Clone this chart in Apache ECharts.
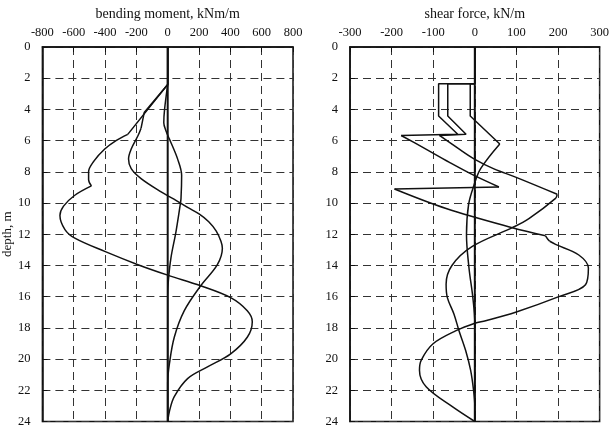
<!DOCTYPE html>
<html>
<head>
<meta charset="utf-8">
<script src="https://cdn.jsdelivr.net/npm/echarts@6/dist/echarts.min.js"></script>
<style>
    html, body { margin: 0; padding: 0; background: #fff; }
    #chart { width: 612px; height: 428px; }
</style>
</head>
<body>
<div id="chart"></div>
<script>
// depth ticks (m), shared by both panels
const depthMin = 0
const depthMax = 24
const depthStep = 2

// bending moment panel: x range (kNm/m)
const momentMin = -800
const momentMax = 800
const momentStep = 200

// shear force panel: x range (kN/m)
const shearMin = -300
const shearMax = 300
const shearStep = 100

// bending moment curves, [moment, depth]
const momentA_line = [[0, 0], [0, 2.4], [-255, 5.6]]
const momentA_curve1 = [[-255, 5.6], [-330, 6.0], [-402, 6.54], [-470, 7.3], [-505, 8.0], [-505, 8.5], [-487, 8.9]]
const momentA_curve2 = [[-487, 8.9], [-593, 9.5], [-665, 10.2], [-688, 10.8], [-656, 11.7], [-593, 12.25],
    [-402, 13.1], [-190, 13.95], [0, 14.62], [211, 15.3], [402, 16.06], [508, 16.9], [540, 17.6],
    [508, 18.6], [402, 19.66], [254, 20.5], [127, 21.25], [42, 22.4], [12, 23.3], [0, 24]]

const momentB_line = [[0, 0], [0, 2.4], [-150, 4.2], [-170, 5.2]]
const momentB_curve = [[-170, 5.2], [-190, 5.69], [-233, 6.54], [-250, 7.17], [-233, 7.8], [-170, 8.44],
    [-42, 9.29], [40, 9.75], [130, 10.3], [200, 10.7], [262, 11.2], [310, 11.8], [340, 12.45], [349, 12.9],
    [317, 13.95], [211, 15.3], [106, 16.9], [42, 18.6], [11, 20.3], [0, 21.5], [0, 24]]

const momentC_line = [[0, 0], [0, 2.41]]
const momentC_curve = [[0, 2.41], [-20, 4.0], [-25, 4.85], [-10, 5.4], [11, 5.9], [63, 7.17], [89, 8.23],
    [85, 9.7], [80, 10.1], [53, 11.83], [21, 13.5], [4, 15], [0, 16], [0, 24]]

const momentD_line = [[0, 0], [0, 24]]

// shear force curves, [shear, depth]
const shearA_line = [[0, 0], [0, 2.35], [-87, 2.35], [-87, 4.42], [-41, 5.59], [-177, 5.67]]
const shearA_curve1 = [[-177, 5.67], [-125, 6.43], [-61, 7.39], [2, 8.28], [58, 8.97]]
const shearA_jump = [[58, 8.97], [-193, 9.1]]
const shearA_curve2 = [[-193, 9.1], [-69, 10.35], [90, 11.58], [170, 12.1]]
const shearA_kink = [[170, 12.1], [175, 12.3], [180, 12.45]]
const shearA_curve3 = [[180, 12.45], [194, 12.65], [250, 13.33], [273, 14.17], [266, 15.24], [202, 16.0],
    [98, 17.0], [26, 17.54], [0, 17.7], [-45, 18.18], [-101, 19.03], [-129, 20.08], [-133, 20.72],
    [-117, 21.78], [-54, 23.05], [0, 24]]

const shearB_line = [[0, 0], [0, 2.35], [-65, 2.35], [-65, 4.42], [-21, 5.59], [-85, 5.67]]
const shearB_curve1 = [[-85, 5.67], [-40, 6.5], [0, 7.2], [46, 7.81], [98, 8.34], [198, 9.44]]
const shearB_curve2 = [[198, 9.44], [194, 9.7], [130, 11.0], [90, 11.58], [-6, 12.78], [-55, 14.0],
    [-69, 15.2], [-66, 16.06], [-50, 17.12], [-38, 18.18], [-22, 19.45], [-10, 20.72], [-3, 22],
    [0, 23], [0, 24]]

const shearC_line = [[0, 0], [0, 2.35], [-11, 2.35], [-11, 4.42], [60, 6.22]]
const shearC_curve = [[60, 6.22], [14, 7.8], [-2, 8.86], [-15, 10.1], [-20, 12.04], [-14, 14.16],
    [-5, 16.0], [0, 17.7], [0, 24]]

const shearD_line = [[0, 0], [0, 24]]

const FONT = "'Liberation Serif', 'Times New Roman', serif"
const INK = '#111'

const makeSeries = (data, gridIndex, smooth, width) => ({
    type: 'line',
    xAxisIndex: gridIndex,
    yAxisIndex: gridIndex,
    data: data,
    smooth: smooth ? 0.35 : false,
    showSymbol: false,
    symbol: 'none',
    silent: true,
    lineStyle: { color: INK, width: width || 1.5 },
})

const makeXAxis = (gridIndex, name, min, max, interval) => ({
    type: 'value',
    gridIndex: gridIndex,
    position: 'top',
    min: min,
    max: max,
    interval: interval,
    name: name,
    nameLocation: 'middle',
    nameGap: 25,
    nameTextStyle: { color: INK, fontFamily: FONT, fontSize: 14 },
    axisLine: { show: true, onZero: false, lineStyle: { color: INK, width: 1.5 } },
    axisTick: { show: true, inside: true, length: 5, lineStyle: { color: INK, width: 1 } },
    axisLabel: { color: INK, fontFamily: FONT, fontSize: 12.5, margin: 8 },
    splitLine: { show: true, lineStyle: { color: '#333', width: 1, type: [8, 5] } },
})

const makeYAxis = (gridIndex, name) => ({
    type: 'value',
    gridIndex: gridIndex,
    inverse: true,
    min: depthMin,
    max: depthMax,
    interval: depthStep,
    name: name,
    nameLocation: 'middle',
    nameRotate: 90,
    nameGap: 21,
    nameTextStyle: { color: INK, fontFamily: FONT, fontSize: 13 },
    axisLine: { show: true, onZero: false, lineStyle: { color: INK, width: 1.5 } },
    axisTick: { show: true, inside: true, length: 5, lineStyle: { color: INK, width: 1 } },
    axisLabel: { color: INK, fontFamily: FONT, fontSize: 12.5, margin: 12 },
    splitLine: { show: true, lineStyle: { color: '#333', width: 1, type: [8, 5] } },
})

const chart = echarts.init(document.getElementById('chart'), null, { renderer: 'canvas' })

chart.setOption({
    animation: false,
    backgroundColor: '#fff',
    grid: [
        { left: 41, top: 47, width: 252, height: 378, show: true, borderColor: INK, borderWidth: 1.5, backgroundColor: 'transparent' },
        { left: 350, top: 47, width: 251, height: 378, show: true, borderColor: INK, borderWidth: 1.5, backgroundColor: 'transparent' },
    ],
    xAxis: [
        makeXAxis(0, 'bending moment, kNm/m', momentMin, momentMax, momentStep),
        makeXAxis(1, 'shear force, kN/m', shearMin, shearMax, shearStep),
    ],
    yAxis: [
        makeYAxis(0, 'depth, m'),
        makeYAxis(1, ''),
    ],
    series: [
        makeSeries(momentD_line, 0, false, 2),
        makeSeries(momentA_line, 0, false),
        makeSeries(momentA_curve1, 0, true),
        makeSeries(momentA_curve2, 0, true),
        makeSeries(momentB_line, 0, false),
        makeSeries(momentB_curve, 0, true),
        makeSeries(momentC_line, 0, false),
        makeSeries(momentC_curve, 0, true),

        makeSeries(shearD_line, 1, false, 2),
        makeSeries(shearA_line, 1, false),
        makeSeries(shearA_curve1, 1, true),
        makeSeries(shearA_jump, 1, false),
        makeSeries(shearA_curve2, 1, true),
        makeSeries(shearA_kink, 1, true),
        makeSeries(shearA_curve3, 1, true),
        makeSeries(shearB_line, 1, false),
        makeSeries(shearB_curve1, 1, true),
        makeSeries(shearB_curve2, 1, true),
        makeSeries(shearC_line, 1, false),
        makeSeries(shearC_curve, 1, true),
    ],
})
</script>
</body>
</html>
